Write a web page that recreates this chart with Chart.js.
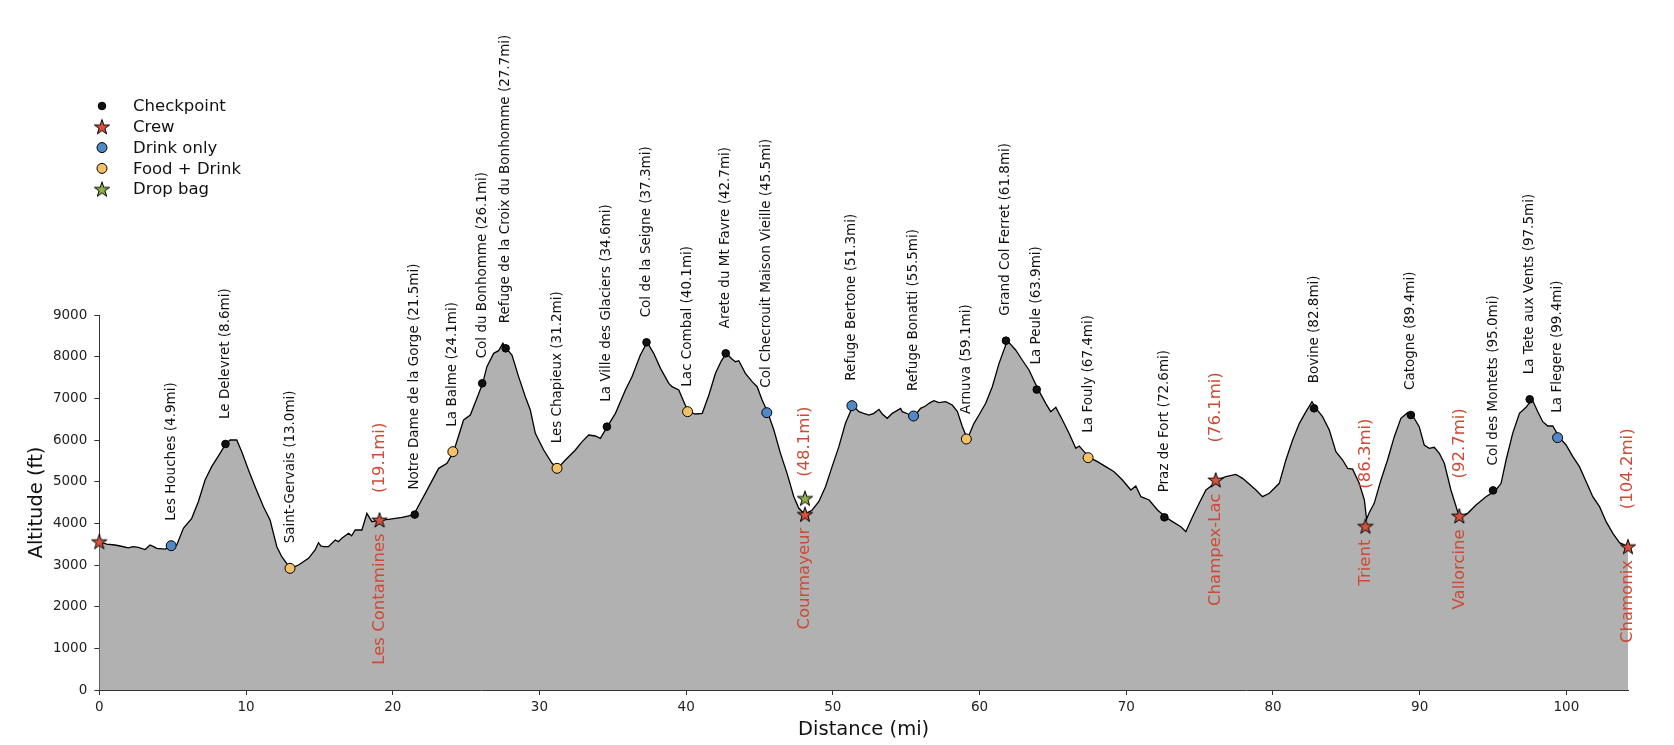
<!DOCTYPE html>
<html>
<head>
<meta charset="utf-8">
<script src="https://cdn.jsdelivr.net/npm/chart.js@4.4.1/dist/chart.umd.min.js"></script>
<style>
  html, body { margin: 0; padding: 0; background: #ffffff; }
  #wrap { width: 1674px; height: 745px; }
</style>
</head>
<body>
<div id="wrap"><canvas id="c" width="1674" height="745"></canvas></div>
<script>
// ---------- DATA ----------
const profileDist = [0, 0.5, 1.07, 1.5, 1.98, 2.3, 2.66, 3.12, 3.46, 3.7, 3.91, 4.48, 4.9, 5.28, 5.73, 6.3, 6.75, 7.21, 7.66, 8.23, 8.62, 8.92, 9.37, 9.71, 10.17, 10.62, 11.19, 11.64, 12.1, 12.44, 13.01, 13.58, 14.26, 14.71, 14.94, 15.1, 15.28, 15.62, 16.08, 16.3, 16.53, 16.99, 17.2, 17.44, 17.9, 18.24, 18.58, 19.08, 19.72, 20.63, 21.42, 22.22, 23.13, 23.7, 24.15, 24.83, 25.29, 25.74, 26.13, 26.42, 26.88, 27.22, 27.51, 27.74, 28.13, 28.58, 29.04, 29.38, 29.72, 30.29, 30.86, 31.24, 31.77, 32.45, 32.91, 33.36, 33.81, 34.15, 34.63, 35.18, 35.86, 36.31, 36.88, 37.34, 37.79, 38.25, 38.82, 39.04, 39.5, 39.84, 40.14, 40.64, 41.1, 41.55, 42.0, 42.4, 42.75, 43.1, 43.36, 43.59, 44.04, 44.5, 44.84, 45.18, 45.57, 45.98, 46.43, 46.88, 47.34, 47.68, 48.09, 48.59, 49.04, 49.5, 49.95, 50.41, 50.86, 51.37, 51.78, 52.1, 52.46, 52.8, 53.14, 53.37, 53.71, 54.05, 54.62, 54.73, 55.14, 55.57, 55.98, 56.32, 56.55, 56.89, 57.23, 57.69, 58.14, 58.49, 58.83, 59.17, 59.62, 59.96, 60.42, 60.87, 61.33, 61.89, 62.46, 62.91, 63.37, 63.99, 64.51, 64.85, 65.2, 65.65, 66.1, 66.56, 66.79, 67.13, 67.51, 68.03, 68.6, 69.17, 69.74, 70.31, 70.65, 71.0, 71.56, 72.13, 72.7, 73.15, 73.72, 74.06, 74.52, 74.97, 75.43, 75.88, 76.22, 76.79, 77.47, 77.93, 78.38, 78.84, 79.29, 79.75, 80.43, 80.88, 81.34, 81.8, 82.25, 82.66, 82.93, 83.38, 83.84, 84.29, 84.75, 85.09, 85.43, 85.88, 86.23, 86.38, 86.56, 86.9, 87.36, 87.81, 88.27, 88.72, 89.18, 89.52, 89.97, 90.31, 90.65, 90.99, 91.34, 91.68, 92.13, 92.59, 92.82, 93.27, 93.84, 94.52, 95.16, 95.55, 95.89, 96.34, 96.8, 97.25, 97.66, 98.05, 98.39, 98.73, 99.07, 99.53, 99.98, 100.44, 100.89, 101.35, 101.8, 102.26, 102.71, 103.17, 103.62, 104.2];
const profileAlt = [3560, 3500, 3480, 3450, 3410, 3440, 3424, 3370, 3480, 3440, 3400, 3380, 3440, 3480, 3880, 4120, 4520, 5040, 5360, 5680, 5904, 6000, 6000, 5720, 5280, 4880, 4400, 4080, 3440, 3200, 2920, 3000, 3160, 3360, 3536, 3460, 3440, 3440, 3600, 3560, 3640, 3760, 3700, 3840, 3840, 4240, 4040, 4080, 4096, 4144, 4200, 4720, 5320, 5440, 5720, 6480, 6600, 7000, 7360, 7760, 8080, 8144, 8320, 8200, 8040, 7520, 7040, 6720, 6160, 5760, 5440, 5320, 5520, 5760, 5960, 6120, 6096, 6040, 6320, 6640, 7200, 7520, 8040, 8344, 8080, 7720, 7360, 7280, 7200, 6920, 6680, 6624, 6640, 7080, 7600, 7900, 8080, 7950, 7880, 7904, 7600, 7400, 7280, 6960, 6656, 6240, 5680, 5200, 4640, 4360, 4216, 4320, 4520, 4880, 5360, 5840, 6400, 6824, 6680, 6640, 6600, 6640, 6736, 6624, 6520, 6640, 6760, 6680, 6624, 6576, 6760, 6816, 6880, 6944, 6896, 6920, 6840, 6680, 6320, 6024, 6400, 6600, 6880, 7280, 7840, 8384, 8160, 7920, 7680, 7216, 6880, 6680, 6784, 6480, 6160, 5800, 5856, 5720, 5576, 5480, 5360, 5240, 5040, 4800, 4896, 4640, 4560, 4320, 4144, 4040, 3920, 3800, 4160, 4480, 4800, 4920, 5040, 5120, 5176, 5080, 4944, 4800, 4640, 4720, 4960, 5520, 6000, 6400, 6680, 6920, 6760, 6560, 6240, 5720, 5520, 5320, 5300, 4960, 4560, 4100, 4256, 4480, 5040, 5520, 6080, 6520, 6656, 6584, 6320, 5880, 5800, 5824, 5680, 5440, 4800, 4280, 4176, 4240, 4440, 4640, 4784, 4960, 5520, 6160, 6640, 6784, 6976, 6680, 6440, 6336, 6336, 6056, 5880, 5600, 5360, 5000, 4640, 4400, 4040, 3760, 3536, 3440];

const checkpointNames = ['Le Delevret', 'Notre Dame de la Gorge', 'Col du Bonhomme', 'Refuge de la Croix du Bonhomme', 'La Ville des Glaciers', 'Col de la Seigne', 'Arete du Mt Favre', 'Grand Col Ferret', 'La Peule', 'Praz de Fort', 'Bovine', 'Catogne', 'Col des Montets', 'La Tete aux Vents'];
const checkpointDist  = [8.6, 21.5, 26.1, 27.7, 34.6, 37.3, 42.7, 61.8, 63.9, 72.6, 82.8, 89.4, 95.0, 97.5];
const checkpointAlt   = [5904, 4210, 7360, 8200, 6320, 8344, 8080, 8384, 7210, 4144, 6760, 6600, 4790, 6976];

const drinkNames = ['Les Houches', 'Col Checrouit Maison Vieille', 'Refuge Bertone', 'Refuge Bonatti', 'La Flegere'];
const drinkDist  = [4.9, 45.5, 51.3, 55.5, 99.4];
const drinkAlt   = [3463, 6656, 6824, 6576, 6056];

const foodNames = ['Saint-Gervais', 'La Balme', 'Les Chapieux', 'Lac Combal', 'Arnuva', 'La Fouly'];
const foodDist  = [13.0, 24.1, 31.2, 40.1, 59.1, 67.4];
const foodAlt   = [2920, 5720, 5320, 6680, 6024, 5576];

const crewNames = ['', 'Les Contamines', 'Courmayeur', 'Champex-Lac', 'Trient', 'Vallorcine', 'Chamonix'];
const crewDist  = [0, 19.1, 48.1, 76.1, 86.3, 92.7, 104.2];
const crewAlt   = [3560, 4080, 4216, 5040, 3930, 4176, 3440];

const dropDist = [48.1];
const dropAlt  = [4600];

const legendLabels = ['Checkpoint', 'Crew', 'Drink only', 'Food + Drink', 'Drop bag'];
const xTickValues = [0, 10, 20, 30, 40, 50, 60, 70, 80, 90, 100];
const yTickValues = [0, 1000, 2000, 3000, 4000, 5000, 6000, 7000, 8000, 9000];

// ---------- STYLE ----------
const FONT = '"DejaVu Sans", "Liberation Sans", sans-serif';
const COL = { fill: '#b1b1b1', crew: '#d9533c', crewText: '#cf4a36', drink: '#5088c8', food: '#f3c266', drop: '#8fb04a', cp: '#111111' };

function starImage(fill, R) {
  const s = Math.ceil(R * 2 + 4);
  const c = document.createElement('canvas');
  c.width = s; c.height = s;
  const g = c.getContext('2d');
  g.translate(s / 2, s / 2 + R * 0.08);
  g.beginPath();
  for (let k = 0; k < 10; k++) {
    const r = k % 2 === 0 ? R : R * 0.382;
    const a = -Math.PI / 2 + k * Math.PI / 5;
    g.lineTo(r * Math.cos(a), r * Math.sin(a));
  }
  g.closePath();
  g.fillStyle = fill; g.fill();
  g.lineWidth = 1; g.strokeStyle = '#000'; g.lineJoin = 'miter'; g.stroke();
  return c;
}
const crewStar = starImage(COL.crew, 8);
const dropStar = starImage(COL.drop, 8);

const pts = (d, a) => d.map((v, i) => ({ x: v, y: a[i] }));

const labelPlugin = {
  id: 'cpLabels',
  afterDatasetsDraw(chart) {
    const { ctx, scales: { x, y } } = chart;
    const rot = (txt, px, py, align) => {
      ctx.save(); ctx.translate(px, py); ctx.rotate(-Math.PI / 2);
      ctx.textAlign = align; ctx.textBaseline = 'middle';
      ctx.fillText(txt, 0, 0); ctx.restore();
    };
    ctx.save();
    ctx.font = '13.5px ' + FONT;
    ctx.fillStyle = '#111';
    [[checkpointNames, checkpointDist, checkpointAlt], [drinkNames, drinkDist, drinkAlt], [foodNames, foodDist, foodAlt]]
      .forEach(([n, d, a]) => n.forEach((name, i) => {
        rot(`${name} (${d[i].toFixed(1)}mi)`, x.getPixelForValue(d[i]), y.getPixelForValue(a[i] + 600), 'left');
      }));
    ctx.font = '16.5px ' + FONT;
    ctx.fillStyle = COL.crewText;
    crewNames.forEach((name, i) => {
      if (!name) return;
      const px = x.getPixelForValue(crewDist[i]);
      const lift = name === 'Les Contamines' ? 650 : 900;
      rot(`(${crewDist[i].toFixed(1)}mi)`, px, y.getPixelForValue(crewAlt[i] + lift), 'left');
      rot(name, px, y.getPixelForValue(crewAlt[i] - 320), 'right');
    });
    ctx.restore();
  },
  afterDraw(chart) {
    const { ctx, chartArea } = chart;
    ctx.save();
    // axis titles
    ctx.fillStyle = '#111';
    ctx.font = '19.5px ' + FONT;
    ctx.textAlign = 'center'; ctx.textBaseline = 'middle';
    ctx.fillText('Distance (mi)', (chartArea.left + chartArea.right) / 2, chartArea.bottom + 40);
    ctx.save();
    ctx.translate(chartArea.left - 62, (chartArea.top + chartArea.bottom) / 2);
    ctx.rotate(-Math.PI / 2);
    ctx.fillText('Altitude (ft)', 0, 0);
    ctx.restore();
    // legend
    const mx = 102, tx = 133, y0 = 106, dy = 20.8;
    ctx.font = '16.5px ' + FONT;
    ctx.textAlign = 'left';
    legendLabels.forEach((lab, i) => {
      const yy = y0 + i * dy;
      if (i === 1 || i === 4) {
        const img = i === 1 ? crewStar : dropStar;
        ctx.drawImage(img, mx - img.width / 2, yy - img.height / 2);
      } else {
        ctx.beginPath();
        ctx.arc(mx, yy, i === 0 ? 3.8 : 5, 0, Math.PI * 2);
        ctx.fillStyle = i === 0 ? COL.cp : (i === 2 ? COL.drink : COL.food);
        ctx.fill(); ctx.lineWidth = 1; ctx.strokeStyle = '#000'; ctx.stroke();
      }
      ctx.fillStyle = '#111';
      ctx.fillText(lab, tx, yy + 1);
    });
    ctx.restore();
  }
};

const markerDs = (label, data, opts) => Object.assign({
  label, data, showLine: false, clip: false, borderColor: '#000', borderWidth: 1, order: 0
}, opts);

new Chart(document.getElementById('c'), {
  type: 'scatter',
  data: {
    datasets: [
      markerDs('Drop bag', pts(dropDist, dropAlt), { pointStyle: dropStar, pointRadius: 8 }),
      markerDs('Crew', pts(crewDist, crewAlt), { pointStyle: crewStar, pointRadius: 8 }),
      markerDs('Checkpoint', pts(checkpointDist, checkpointAlt), { pointRadius: 3.8, backgroundColor: COL.cp }),
      markerDs('Drink only', pts(drinkDist, drinkAlt), { pointRadius: 5, backgroundColor: COL.drink }),
      markerDs('Food + Drink', pts(foodDist, foodAlt), { pointRadius: 5, backgroundColor: COL.food }),
      {
        label: 'Profile', data: pts(profileDist, profileAlt), showLine: true, fill: 'origin',
        backgroundColor: COL.fill, borderColor: '#000', borderWidth: 1.3, pointRadius: 0,
        tension: 0, order: 10
      }
    ]
  },
  options: {
    responsive: false, animation: false,
    layout: { padding: { top: 315, left: 0, right: 46, bottom: 0 } },
    plugins: { legend: { display: false }, tooltip: { enabled: false } },
    scales: {
      x: {
        type: 'linear', min: 0, max: 104.2,
        afterBuildTicks: s => { s.ticks = xTickValues.map(v => ({ value: v })); },
        afterFit: s => { s.height = 55; },
        grid: { drawOnChartArea: false, drawTicks: true, tickLength: 5, color: '#333' },
        border: { display: true, color: '#333', width: 1 },
        ticks: { font: { family: FONT, size: 13.5 }, color: '#222', padding: 4, maxRotation: 0, callback: v => String(v) }
      },
      y: {
        type: 'linear', min: 0, max: 9000,
        afterBuildTicks: s => { s.ticks = yTickValues.map(v => ({ value: v })); },
        afterFit: s => { s.width = 99.3; },
        grid: { drawOnChartArea: false, drawTicks: true, tickLength: 5, color: '#333' },
        border: { display: true, color: '#333', width: 1 },
        ticks: { font: { family: FONT, size: 13.5 }, color: '#222', padding: 7, callback: v => String(v) }
      }
    }
  },
  plugins: [labelPlugin]
});
</script>
</body>
</html>
